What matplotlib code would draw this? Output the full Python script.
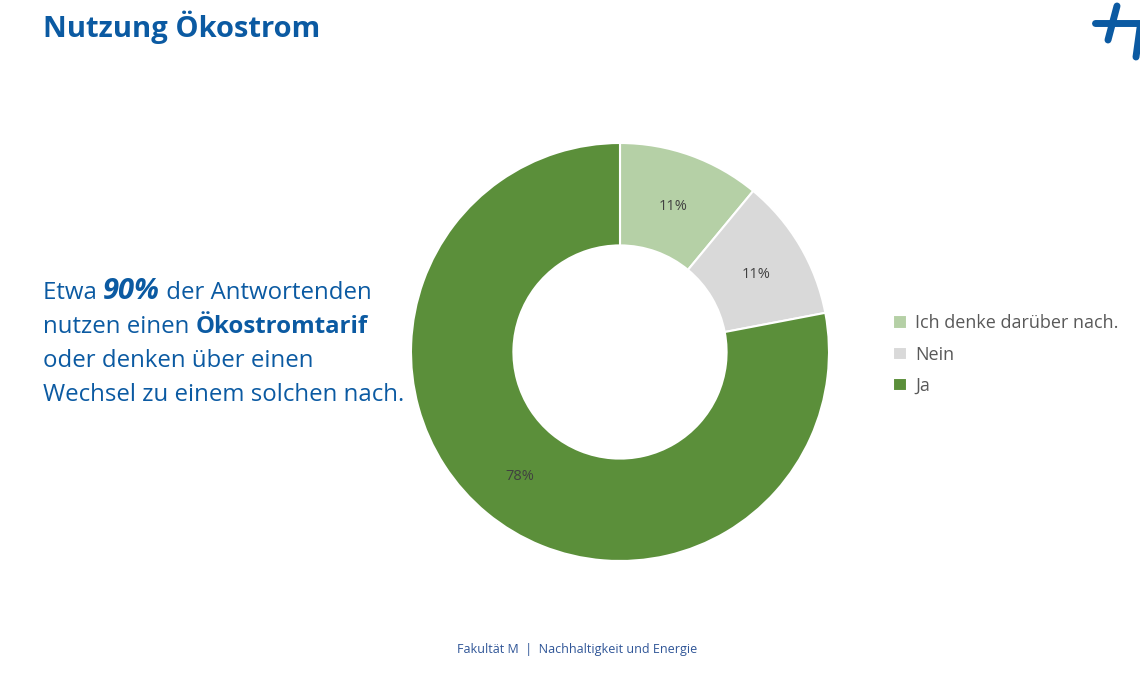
import matplotlib.pyplot as plt
from matplotlib.lines import Line2D
import numpy as np

# data
labels = ["Ich denke darüber nach.", "Nein", "Ja"]
shares = [11, 11, 78]
colors = ["#B5D0A6", "#D9D9D9", "#5B8F3A"]
pct_labels = ["11%", "11%", "78%"]

blue = "#0B5AA2"
W, H = 1140, 685
fig = plt.figure(figsize=(W / 100, H / 100), dpi=100)

# donut
cx, cy, r = 620, 352, 209
ax = fig.add_axes([(cx - r) / W, (H - cy - r) / H, 2 * r / W, 2 * r / H])
wedges, _ = ax.pie(shares, colors=colors, startangle=90, counterclock=False,
                   radius=1, wedgeprops=dict(width=0.49, edgecolor="white", linewidth=1.5))
ang = 90
for w, s, t in zip(wedges, shares, pct_labels):
    mid = np.deg2rad(ang - s * 3.6 / 2)
    ang -= s * 3.6
    ax.text(0.755 * np.cos(mid), 0.755 * np.sin(mid) - 0.015, t, ha="center", va="center",
            fontsize=10.5, color="#404040", family="Open Sans")
ax.set_xlim(-1, 1)
ax.set_ylim(-1, 1)
ax.set_aspect("equal")
ax.axis("off")

# legend
fig.legend(wedges, labels, loc="upper left", bbox_to_anchor=(877 / W, 1 - 298 / H),
           frameon=False, handlelength=0.75, handleheight=0.75, handletextpad=0.45,
           labelspacing=0.74, prop=dict(family="Open Sans", size=13), labelcolor="#595959")

# title
fig.text(43 / W, 1 - 37 / H, "Nutzung Ökostrom", fontsize=21, fontweight="bold",
         color=blue, family="Open Sans", va="baseline")

# left text, built from pieces
lines = [
    [("Etwa ", {}), ("90%", dict(fontweight="bold", fontstyle="italic", fontsize=21)),
     (" der Antwortenden", {})],
    [("nutzen einen ", {}), ("Ökostromtarif", dict(fontweight="bold"))],
    [("oder denken über einen", {})],
    [("Wechsel zu einem solchen nach.", {})],
]
fig.canvas.draw()
rend = fig.canvas.get_renderer()
y0 = 299
for i, parts in enumerate(lines):
    x = 43
    for txt, kw in parts:
        base = dict(fontsize=17.3, color=blue, family="Open Sans", va="baseline")
        base.update(kw)
        t = fig.text(x / W, 1 - (y0 + i * 34) / H, txt, **base)
        x += t.get_window_extent(rend).width

# footer
fig.text(577 / W, 1 - 653 / H, "Fakultät M  |  Nachhaltigkeit und Energie", fontsize=9,
         color="#2F5597", family="Open Sans", ha="center", va="baseline")

# logo
for xs, ys in [([1095, 1140], [23, 23]), ([1117, 1108], [6, 40]), ([1140, 1136], [28, 57])]:
    fig.add_artist(Line2D([x / W for x in xs], [1 - y / H for y in ys], color=blue,
                          linewidth=5, solid_capstyle="round"))

fig.savefig("out.png", dpi=100)
